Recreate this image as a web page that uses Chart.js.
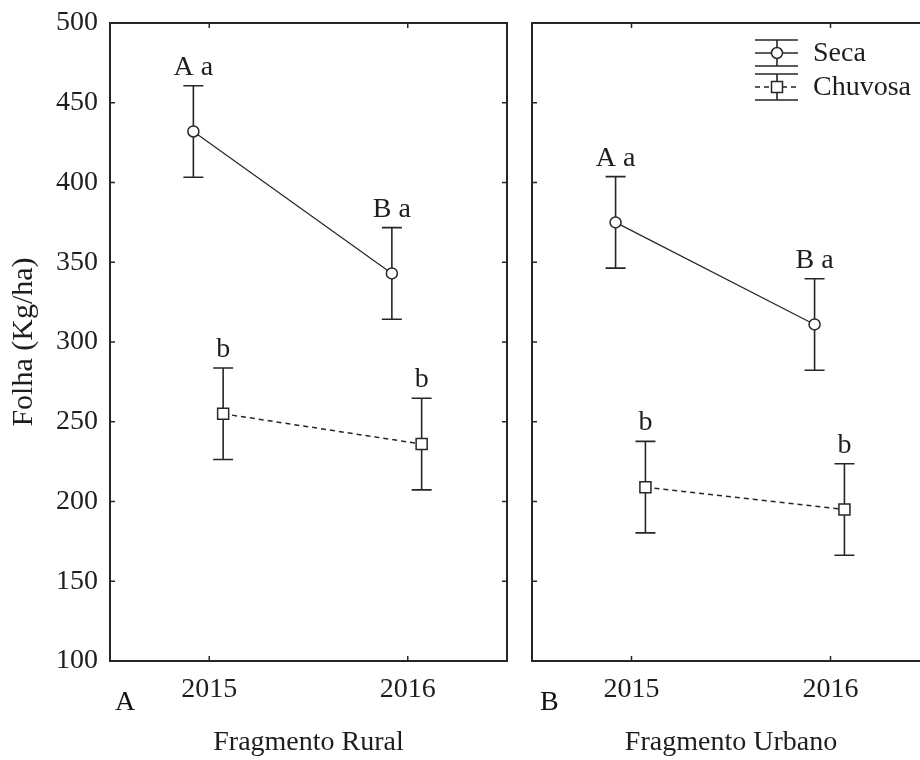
<!DOCTYPE html>
<html>
<head>
<meta charset="utf-8">
<script src="https://cdn.jsdelivr.net/npm/chart.js@4.4.1/dist/chart.umd.min.js"></script>
<style>
  body { margin: 0; background: #fff; }
  #wrap { position: relative; width: 920px; height: 760px; overflow: hidden; }
  #panelA { position: absolute; left: 0; top: 0; }
  #panelB { position: absolute; left: 520px; top: 0; }
</style>
</head>
<body>
<div id="wrap">
  <canvas id="panelA" width="520" height="760"></canvas>
  <canvas id="panelB" width="420" height="760"></canvas>
</div>
<script>
// values
const years = ['2015', '2016'];
const seriesNames = ['Seca', 'Chuvosa'];

const ruralSeca = [432, 343];
const ruralSecaErr = [28.7, 28.7];
const ruralChuvosa = [255, 236];
const ruralChuvosaErr = [28.7, 28.7];

const urbanSeca = [375, 311];
const urbanSecaErr = [28.7, 28.7];
const urbanChuvosa = [209, 195];
const urbanChuvosaErr = [28.7, 28.7];

const ruralSecaLetters = ['A a', 'B a'];
const ruralChuvosaLetters = ['b', 'b'];
const urbanSecaLetters = ['A a', 'B a'];
const urbanChuvosaLetters = ['b', 'b'];

const yMin = 100, yMax = 500, yStep = 50;

const FONT = '"Liberation Serif", "Times New Roman", serif';
const INK = '#262626';
Chart.defaults.font.family = FONT;
Chart.defaults.color = '#1e1e1e';

// small horizontal shift so the two series don't overlap
const shift = { Seca: -0.08, Chuvosa: 0.07 };

function pts(values, name) {
  return values.map((v, i) => ({ x: i + shift[name], y: v }));
}

function drawMarker(ctx, style, x, y) {
  ctx.save();
  ctx.fillStyle = '#fff';
  ctx.strokeStyle = INK;
  ctx.lineWidth = 1.5;
  ctx.beginPath();
  if (style === 'rect') ctx.rect(x - 5.5, y - 5.5, 11, 11);
  else ctx.arc(x, y, 5.5, 0, Math.PI * 2);
  ctx.fill();
  ctx.stroke();
  ctx.restore();
}

// box around the plot with inward ticks on all four sides
const frame = {
  id: 'frame',
  beforeDatasetsDraw(chart) {
    const { ctx, chartArea: a, scales: { x, y } } = chart;
    ctx.save();
    ctx.strokeStyle = INK;
    ctx.lineWidth = 2;
    ctx.strokeRect(a.left, a.top, a.right - a.left, a.bottom - a.top);
    ctx.lineWidth = 1.5;
    ctx.beginPath();
    y.ticks.forEach(t => {
      const py = y.getPixelForValue(t.value);
      ctx.moveTo(a.left, py); ctx.lineTo(a.left + 5, py);
      ctx.moveTo(a.right, py); ctx.lineTo(a.right - 5, py);
    });
    x.ticks.forEach(t => {
      const px = x.getPixelForValue(t.value);
      ctx.moveTo(px, a.bottom); ctx.lineTo(px, a.bottom - 5);
      ctx.moveTo(px, a.top); ctx.lineTo(px, a.top + 5);
    });
    ctx.stroke();
    const letter = chart.options.plugins.frame.letter;
    ctx.fillStyle = '#111';
    ctx.font = '28px ' + FONT;
    ctx.textAlign = 'left';
    ctx.textBaseline = 'alphabetic';
    ctx.fillText(letter, a.left + chart.options.plugins.frame.letterX, a.bottom + 49);
    ctx.restore();
  }
};

// error bars with the significance letters above them
const errorBars = {
  id: 'errorBars',
  beforeDatasetsDraw(chart) {
    const { ctx, scales: { y } } = chart;
    ctx.save();
    chart.data.datasets.forEach((ds, i) => {
      chart.getDatasetMeta(i).data.forEach((pt, j) => {
        const v = ds.data[j].y, e = ds.errors[j];
        const top = y.getPixelForValue(v + e);
        const bot = y.getPixelForValue(v - e);
        ctx.strokeStyle = INK;
        ctx.lineWidth = 1.6;
        ctx.beginPath();
        ctx.moveTo(pt.x, top); ctx.lineTo(pt.x, bot);
        ctx.moveTo(pt.x - 10, top); ctx.lineTo(pt.x + 10, top);
        ctx.moveTo(pt.x - 10, bot); ctx.lineTo(pt.x + 10, bot);
        ctx.stroke();
        ctx.fillStyle = '#1e1e1e';
        ctx.font = '28px ' + FONT;
        ctx.textAlign = 'center';
        ctx.textBaseline = 'alphabetic';
        ctx.fillText(ds.letters[j], pt.x, top - 11);
      });
    });
    ctx.restore();
  }
};

// legend with the error bar symbol, only on the right panel
const barLegend = {
  id: 'barLegend',
  afterDraw(chart) {
    if (!chart.options.plugins.barLegend.show) return;
    const { ctx, chartArea: a } = chart;
    const cx = a.left + 245, tx = a.left + 281;
    chart.data.datasets.forEach((ds, i) => {
      const cy = a.top + 30 + i * 34;
      ctx.save();
      ctx.strokeStyle = INK;
      ctx.lineWidth = 1.6;
      ctx.beginPath();
      ctx.moveTo(cx - 22, cy - 13); ctx.lineTo(cx + 21, cy - 13);
      ctx.moveTo(cx - 22, cy + 13); ctx.lineTo(cx + 21, cy + 13);
      ctx.moveTo(cx, cy - 13); ctx.lineTo(cx, cy + 13);
      ctx.stroke();
      ctx.lineWidth = ds.borderDash ? 1.5 : 1.6;
      ctx.setLineDash(ds.borderDash || []);
      ctx.beginPath();
      ctx.moveTo(cx - 22, cy); ctx.lineTo(cx + 21, cy);
      ctx.stroke();
      ctx.setLineDash([]);
      drawMarker(ctx, ds.pointStyle, cx, cy);
      ctx.fillStyle = '#1e1e1e';
      ctx.font = '28px ' + FONT;
      ctx.textAlign = 'left';
      ctx.textBaseline = 'middle';
      ctx.fillText(ds.label, tx, cy + 1);
      ctx.restore();
    });
  }
};

function makeDatasets(seca, secaErr, secaLet, chuv, chuvErr, chuvLet) {
  return [
    {
      label: seriesNames[0], data: pts(seca, 'Seca'), errors: secaErr, letters: secaLet,
      borderColor: INK, borderWidth: 1.2, pointStyle: 'circle', pointRadius: 5.5,
      pointBackgroundColor: '#fff', pointBorderColor: INK, pointBorderWidth: 1.5
    },
    {
      label: seriesNames[1], data: pts(chuv, 'Chuvosa'), errors: chuvErr, letters: chuvLet,
      borderColor: INK, borderWidth: 1.5, borderDash: [5, 4], pointStyle: 'rect', pointRadius: 7.8,
      pointBackgroundColor: '#fff', pointBorderColor: INK, pointBorderWidth: 1.5
    }
  ];
}

function makeChart(el, datasets, opts) {
  return new Chart(el, {
    type: 'line',
    data: { datasets: datasets },
    plugins: [frame, errorBars, barLegend],
    options: {
      responsive: false,
      animation: false,
      events: [],
      layout: { padding: { top: 23, right: opts.padRight, left: 0, bottom: 0 } },
      plugins: {
        legend: { display: false },
        tooltip: { enabled: false },
        frame: { letter: opts.letter, letterX: opts.letterX },
        barLegend: { show: opts.legend }
      },
      scales: {
        x: {
          type: 'linear',
          min: -0.5,
          max: 1.5,
          grid: { display: false, drawTicks: false },
          border: { display: false },
          afterBuildTicks: s => { s.ticks = years.map((_, i) => ({ value: i })); },
          afterFit: s => { s.height = 99; s.paddingLeft = 0; s.paddingRight = 0; },
          ticks: {
            padding: 12,
            font: { size: 28 },
            callback: v => years[v]
          },
          title: {
            display: true,
            text: opts.title,
            font: { size: 28 },
            padding: { top: 0, bottom: 1 }
          }
        },
        y: {
          min: yMin,
          max: yMax,
          grid: { display: false, drawTicks: false },
          border: { display: false },
          afterFit: s => { s.width = opts.yWidth; s.paddingTop = 0; s.paddingBottom = 0; },
          ticks: {
            display: opts.yLabels,
            stepSize: yStep,
            padding: 12,
            font: { size: 28 }
          },
          title: {
            display: opts.yLabels,
            text: 'Folha (Kg/ha)',
            font: { size: 30 },
            padding: { top: 6, bottom: 0 }
          }
        }
      }
    }
  });
}

makeChart(document.getElementById('panelA'),
  makeDatasets(ruralSeca, ruralSecaErr, ruralSecaLetters, ruralChuvosa, ruralChuvosaErr, ruralChuvosaLetters),
  { title: 'Fragmento Rural', letter: 'A', letterX: 5, padRight: 13, yWidth: 110, yLabels: true, legend: false });

makeChart(document.getElementById('panelB'),
  makeDatasets(urbanSeca, urbanSecaErr, urbanSecaLetters, urbanChuvosa, urbanChuvosaErr, urbanChuvosaLetters),
  { title: 'Fragmento Urbano', letter: 'B', letterX: 8, padRight: 10, yWidth: 12, yLabels: false, legend: true });
</script>
</body>
</html>
